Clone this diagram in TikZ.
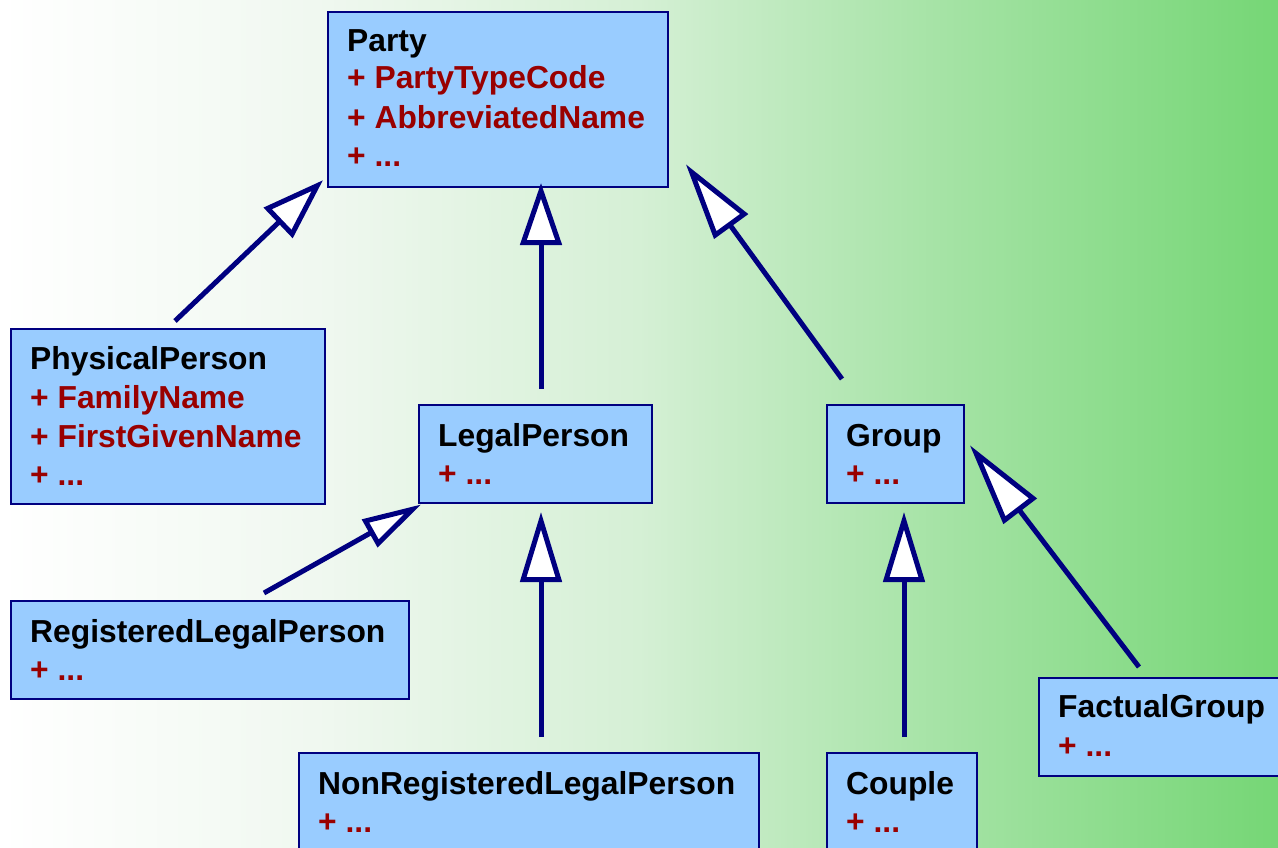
\documentclass[tikz,border=0pt]{standalone}
\usepackage{fontspec}
\setmainfont{Liberation Sans}
\usetikzlibrary{arrows.meta,calc}

\definecolor{umlfill}{HTML}{99CCFF}
\definecolor{umlline}{HTML}{000080}
\definecolor{attrred}{HTML}{990000}

% soft white-to-green backdrop (the path is mapped onto 25bp..75bp)
\pgfdeclarehorizontalshading{backdrop}{100bp}{%
  rgb(0bp)=(1,1,1);
  rgb(25bp)=(1,1,1);
  rgb(37.5bp)=(0.94,0.972,0.94);
  rgb(50bp)=(0.835,0.94,0.835);
  rgb(61bp)=(0.66,0.893,0.66);
  rgb(75bp)=(0.46,0.84,0.46);
  rgb(100bp)=(0.46,0.84,0.46)}

\tikzset{
  umlbox/.style={draw=umlline, line width=2pt, fill=umlfill, rectangle,
    anchor=north west, inner sep=0pt},
  cls/.style={anchor=base west, inner sep=0pt, text=black,
    font=\fontsize{31.8}{38}\selectfont\bfseries},
  attr/.style={cls, text=attrred},
  gen/.style 2 args={draw=umlline, line width=5pt,
    -{Triangle[fill=white, length=#1, width=#2, line join=miter]}}
}

\begin{document}
\begin{tikzpicture}[x=1pt, y=-1pt]
\useasboundingbox (0,0) rectangle (1278,848);
\clip (0,0) rectangle (1278,848);
\shade[shading=backdrop] (0,0) rectangle (1278,848);

% class boxes
\node[umlbox, minimum width=340pt, minimum height=175pt] (party) at (327,11) {};
\node[umlbox, minimum width=314pt, minimum height=175pt] (pp) at (10,328) {};
\node[umlbox, minimum width=233pt, minimum height=98pt] (lp) at (418,404) {};
\node[umlbox, minimum width=137pt, minimum height=98pt] (grp) at (826,404) {};
\node[umlbox, minimum width=398pt, minimum height=98pt] (reg) at (10,600) {};
\node[umlbox, minimum width=460pt, minimum height=120pt] (nr) at (298,752) {};
\node[umlbox, minimum width=150pt, minimum height=120pt] (cp) at (826,752) {};
\node[umlbox, minimum width=260pt, minimum height=98pt] (fg) at (1038,677) {};

% Party
\node[cls]  (party-t)  at ($(party.north west)+(20,41)$) {Party};
\node[attr] (party-a1) at ($(party.north west)+(20,78)$) {+ PartyTypeCode};
\node[attr] (party-a2) at ($(party.north west)+(20,118)$) {+ AbbreviatedName};
\node[attr] (party-a3) at ($(party.north west)+(20,156)$) {+ ...};

% PhysicalPerson
\node[cls]  (pp-t)  at ($(pp.north west)+(20,41)$) {PhysicalPerson};
\node[attr] (pp-a1) at ($(pp.north west)+(20,80)$) {+ FamilyName};
\node[attr] (pp-a2) at ($(pp.north west)+(20,119)$) {+ FirstGivenName};
\node[attr] (pp-a3) at ($(pp.north west)+(20,157)$) {+ ...};

% LegalPerson
\node[cls]  (lp-t)  at ($(lp.north west)+(20,42)$) {LegalPerson};
\node[attr] (lp-a1) at ($(lp.north west)+(20,80)$) {+ ...};

% Group
\node[cls]  (grp-t)  at ($(grp.north west)+(20,42)$) {Group};
\node[attr] (grp-a1) at ($(grp.north west)+(20,80)$) {+ ...};

% RegisteredLegalPerson
\node[cls]  (reg-t)  at ($(reg.north west)+(20,42)$) {RegisteredLegalPerson};
\node[attr] (reg-a1) at ($(reg.north west)+(20,80)$) {+ ...};

% NonRegisteredLegalPerson
\node[cls]  (nr-t)  at ($(nr.north west)+(20,42)$) {NonRegisteredLegalPerson};
\node[attr] (nr-a1) at ($(nr.north west)+(20,80)$) {+ ...};

% Couple
\node[cls]  (cp-t)  at ($(cp.north west)+(20,42)$) {Couple};
\node[attr] (cp-a1) at ($(cp.north west)+(20,80)$) {+ ...};

% FactualGroup
\node[cls]  (fg-t)  at ($(fg.north west)+(20,40)$) {FactualGroup};
\node[attr] (fg-a1) at ($(fg.north west)+(20,79)$) {+ ...};

% tails of the generalisation arrows
\coordinate (ppTail)  at ($(pp.north)+(7,-7)$);
\coordinate (lpTail)  at ($(lp.north)+(5.5,-15)$);
\coordinate (grpTail) at ($(grp.north)+(-53.5,-25)$);
\coordinate (regTail) at ($(reg.north)+(54,-7)$);
\coordinate (nrTail)  at ($(nr.north)+(12,-15)$);
\coordinate (cpTail)  at ($(cp.north)+(2,-15)$);
\coordinate (fgTail)  at ($(fg.north)+(-30,-10)$);

% generalisations
\draw[gen={62pt}{41pt}] (ppTail)  -- ($(party.south west)+(-4,-7.8)$);
\draw[gen={62pt}{41pt}] (lpTail)  -- ($(lpTail |- party.south)+(0,-5)$);
\draw[gen={77pt}{41pt}] (grpTail) -- ($(party.south east)+(16.9,-23.7)$);
\draw[gen={59pt}{31pt}] (regTail) -- ($(lp.south west)+(3,0.5)$);
\draw[gen={70pt}{41pt}] (nrTail)  -- ($(nrTail |- lp.south)+(0,8)$);
\draw[gen={70pt}{41pt}] (cpTail)  -- ($(cpTail |- grp.south)+(0,8)$);
\draw[gen={83pt}{41pt}] (fgTail)  -- ($(grp.east)+(4.9,-8.7)$);
\end{tikzpicture}
\end{document}
